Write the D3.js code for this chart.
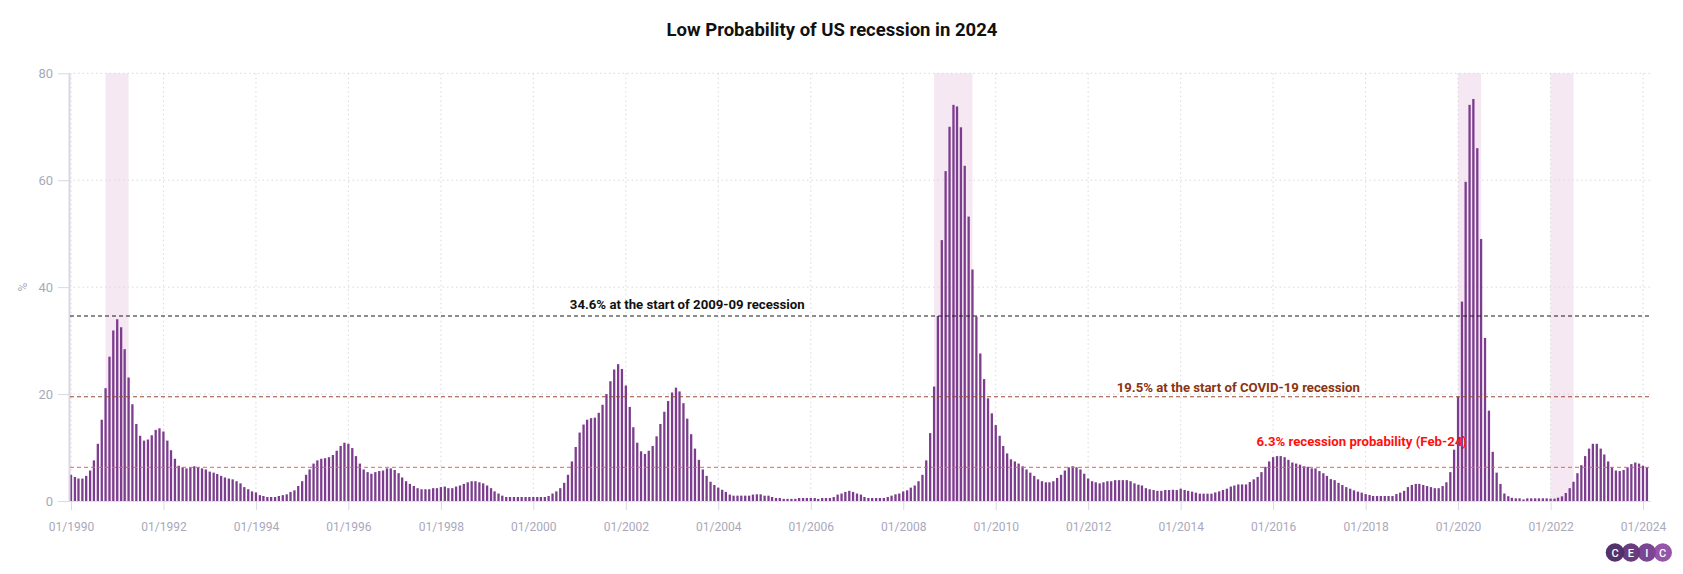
<!DOCTYPE html>
<html><head><meta charset="utf-8">
<script src="https://cdn.jsdelivr.net/npm/d3@7"></script>
<style>
html,body{margin:0;padding:0;background:#fff;}
svg{display:block;font-family:Roboto,"Open Sans",sans-serif;}
</style></head><body>
<svg id="chart" width="1683" height="574"></svg>
<script>
// ---- data ----
const startMonth = "1990-01";
// US recession probability, %, monthly Jan 1990 .. Feb 2024 (one row per year)
const probability = [
  4.9, 4.5, 4.2, 4.2, 4.7, 5.7, 7.6, 10.7, 15.2, 21.1, 27.0, 31.9,      // 1990
  34.0, 32.5, 28.4, 23.1, 18.1, 14.4, 12.2, 11.3, 11.5, 12.3, 13.3, 13.6, // 1991
  13.0, 11.3, 9.5, 7.9, 6.6, 6.3, 6.1, 6.3, 6.5, 6.3, 6.1, 5.9,          // 1992
  5.5, 5.3, 5.05, 4.7, 4.4, 4.2, 4.05, 3.7, 3.3, 2.6, 2.2, 1.8,          // 1993
  1.6, 1.1, 0.94, 0.75, 0.75, 0.75, 0.94, 1.1, 1.25, 1.7, 2.0, 2.8,      // 1994
  3.7, 4.9, 5.9, 7.0, 7.6, 7.9, 8.0, 8.2, 8.6, 9.4, 10.3, 10.9,          // 1995
  10.7, 9.9, 8.4, 7.0, 5.9, 5.4, 5.1, 5.4, 5.6, 5.7, 6.1, 6.1,           // 1996
  5.8, 5.2, 4.4, 3.7, 3.2, 2.8, 2.4, 2.2, 2.2, 2.2, 2.4, 2.4,            // 1997
  2.6, 2.7, 2.4, 2.4, 2.7, 2.9, 3.2, 3.5, 3.7, 3.7, 3.5, 3.3,            // 1998
  2.9, 2.4, 1.8, 1.4, 1.0, 0.75, 0.75, 0.75, 0.75, 0.75, 0.75, 0.75,     // 1999
  0.75, 0.75, 0.75, 0.75, 0.94, 1.4, 1.8, 2.4, 3.4, 4.9, 7.4, 10.1,      // 2000
  12.8, 14.3, 15.2, 15.5, 15.6, 16.5, 18.0, 20.0, 22.4, 24.6, 25.6, 24.7, // 2001
  21.6, 17.6, 13.8, 10.9, 9.3, 8.8, 9.4, 10.3, 12.1, 14.4, 16.7, 18.7,   // 2002
  20.3, 21.2, 20.5, 18.3, 15.4, 12.5, 9.8, 7.7, 5.9, 4.7, 3.6, 3.0,      // 2003
  2.5, 2.1, 1.7, 1.2, 1.0, 1.0, 1.0, 1.0, 1.0, 1.2, 1.25, 1.25,          // 2004
  1.0, 1.0, 0.75, 0.56, 0.56, 0.4, 0.4, 0.4, 0.4, 0.56, 0.56, 0.56,      // 2005
  0.56, 0.56, 0.4, 0.56, 0.56, 0.56, 0.75, 1.2, 1.4, 1.7, 1.9, 1.7,      // 2006
  1.4, 1.2, 0.75, 0.56, 0.56, 0.56, 0.56, 0.56, 0.75, 1.0, 1.25, 1.4,    // 2007
  1.8, 2.0, 2.5, 2.9, 3.7, 4.9, 7.6, 12.7, 21.4, 34.6, 48.8, 61.7,       // 2008
  70.0, 74.1, 73.8, 69.9, 62.7, 53.2, 43.3, 34.5, 27.6, 22.8, 19.2, 16.4, // 2009
  14.2, 12.2, 10.3, 8.9, 7.8, 7.4, 7.0, 6.5, 5.9, 5.3, 4.7, 4.05,        // 2010
  3.7, 3.5, 3.5, 3.7, 4.3, 4.9, 5.7, 6.3, 6.5, 6.3, 5.9, 5.1,            // 2011
  4.2, 3.7, 3.5, 3.3, 3.5, 3.7, 3.7, 3.9, 3.9, 3.9, 3.9, 3.7,            // 2012
  3.3, 3.05, 2.9, 2.4, 2.2, 2.06, 1.9, 1.9, 2.06, 2.06, 2.1, 2.06,       // 2013
  2.3, 2.06, 1.9, 1.75, 1.56, 1.37, 1.37, 1.37, 1.37, 1.6, 1.8, 2.06,    // 2014
  2.3, 2.7, 2.9, 3.1, 3.1, 3.1, 3.55, 4.05, 4.5, 5.4, 6.4, 7.4,          // 2015
  8.2, 8.4, 8.4, 8.2, 7.7, 7.2, 7.0, 6.8, 6.5, 6.4, 6.1, 6.1,            // 2016
  5.6, 5.2, 4.7, 4.1, 3.9, 3.4, 3.0, 2.6, 2.3, 2.0, 1.75, 1.56,          // 2017
  1.3, 1.12, 0.94, 0.94, 0.94, 0.94, 0.94, 0.94, 1.3, 1.56, 1.9, 2.6,    // 2018
  3.0, 3.2, 3.2, 3.0, 2.8, 2.6, 2.4, 2.4, 2.8, 3.5, 5.4, 9.6,            // 2019
  19.5, 37.3, 59.7, 74.1, 75.2, 66.0, 49.0, 30.5, 16.9, 9.2, 5.3, 3.2,   // 2020
  1.4, 0.9, 0.6, 0.5, 0.5, 0.3, 0.5, 0.5, 0.5, 0.5, 0.5, 0.5,            // 2021
  0.44, 0.44, 0.62, 0.87, 1.5, 2.4, 3.6, 5.2, 6.7, 8.4, 9.8, 10.7,       // 2022
  10.7, 9.8, 8.7, 7.4, 6.3, 5.7, 5.6, 5.8, 6.3, 6.9, 7.2, 7.0,           // 2023
  6.6, 6.3                                                               // 2024
];
const xTickLabels = ["01/1990","01/1992","01/1994","01/1996","01/1998","01/2000","01/2002",
  "01/2004","01/2006","01/2008","01/2010","01/2012","01/2014","01/2016","01/2018",
  "01/2020","01/2022","01/2024"];
const yTicks = [0, 20, 40, 60, 80];
const bandStarts = ["1990-10", "2008-09", "2020-01", "2022-01"];
const bandEnds   = ["1991-04", "2009-07", "2020-07", "2022-07"];
const refValues = [34.6, 19.5, 6.3];
const refLabels = ["34.6% at the start of 2009-09 recession",
                   "19.5% at the start of COVID-19 recession",
                   "6.3% recession probability (Feb-24)"];
const refLabelDates = ["2003-05", "2015-04", "2017-12"];
const titleText = "Low Probability of US recession in 2024";
const yAxisLabel = "%";
const logoLetters = ["C", "E", "I", "C"];

// ---- layout / style ----
const svg = d3.select("#chart");
const axisX = 69, plotRight = 1651, plotTop = 73.3, plotBottom = 501;
const parseYM = d3.timeParse("%Y-%m");
const parseTick = d3.timeParse("%m/%Y");
const start = parseYM(startMonth);
const months = probability.map((v, i) => ({date: d3.timeMonth.offset(start, i), value: v}));

const x = d3.scaleTime().domain([parseTick("01/1990"), parseTick("01/2024")]).range([71, 1643]);
const y = d3.scaleLinear().domain([0, 80]).range([plotBottom, plotTop]);

const gridColor = "#d8d8e0", axisColor = "#d9d8e4", labelColor = "#a9a8bb";

// recession bands
svg.append("g").selectAll("rect").data(bandStarts.map((s, i) => [parseYM(s), parseYM(bandEnds[i])]))
  .join("rect")
  .attr("x", d => x(d[0])).attr("width", d => x(d[1]) - x(d[0]))
  .attr("y", plotTop).attr("height", plotBottom - plotTop)
  .attr("fill", "#f5e8f3");

// grid
svg.append("g").selectAll("line").data(yTicks.filter(v => v > 0)).join("line")
  .attr("x1", axisX).attr("x2", plotRight)
  .attr("y1", d => y(d)).attr("y2", d => y(d))
  .attr("stroke", gridColor).attr("stroke-width", 1).attr("stroke-dasharray", "1.5,3");
const tickDates = xTickLabels.map(parseTick);
svg.append("g").selectAll("line").data(tickDates).join("line")
  .attr("x1", d => x(d)).attr("x2", d => x(d))
  .attr("y1", plotTop).attr("y2", plotBottom)
  .attr("stroke", gridColor).attr("stroke-width", 1).attr("stroke-dasharray", "1.5,3");

// bars
const barW = 2.3;
svg.append("g").selectAll("rect").data(months).join("rect")
  .attr("x", d => x(d.date) - barW / 2).attr("width", barW)
  .attr("y", d => y(d.value)).attr("height", d => plotBottom - y(d.value))
  .attr("fill", "#7c3d8e");

// baseline
svg.append("line").attr("x1", axisX).attr("x2", plotRight)
  .attr("y1", plotBottom + 0.5).attr("y2", plotBottom + 0.5)
  .attr("stroke", "#e2e1ea").attr("stroke-width", 1);

// y axis
const gy = svg.append("g").attr("transform", `translate(${axisX},0)`)
  .call(d3.axisLeft(y).tickValues(yTicks).tickSize(11).tickSizeOuter(0).tickPadding(5));
gy.select(".domain").attr("stroke", axisColor).attr("stroke-width", 2);
gy.selectAll(".tick line").attr("stroke", axisColor);
gy.selectAll(".tick text").attr("fill", labelColor).style("font-size", "13px").style("font-family", "Roboto");

// x axis
const gx = svg.append("g").attr("transform", `translate(0,${plotBottom})`)
  .call(d3.axisBottom(x).tickValues(tickDates).tickFormat(d3.timeFormat("%m/%Y")).tickSize(9).tickSizeOuter(0).tickPadding(12));
gx.select(".domain").remove();
gx.selectAll(".tick line").attr("stroke", axisColor);
gx.selectAll(".tick text").attr("fill", labelColor).style("font-size", "12px").style("font-family", "Roboto");

// y label
svg.append("text").attr("transform", "translate(27,287) rotate(-90)")
  .attr("text-anchor", "middle").attr("fill", labelColor).style("font-size", "12px").text(yAxisLabel);

// reference lines
const refLineColors = ["#1a1a1a", "#9b4a33", "#ff5a5a"];
const refLineWidths = [1.2, 1.2, 1];
const refTextColors = ["#111111", "#8b3412", "#ff1010"];
const refLabelDy = [-6.8, -4.8, -21];
svg.append("g").selectAll("line").data(refValues).join("line")
  .attr("x1", axisX + 1).attr("x2", plotRight)
  .attr("y1", d => y(d)).attr("y2", d => y(d))
  .attr("stroke", (d, i) => refLineColors[i]).attr("stroke-width", (d, i) => refLineWidths[i])
  .attr("stroke-dasharray", "4,3");
svg.append("g").selectAll("text").data(refLabels).join("text")
  .attr("x", (d, i) => x(parseYM(refLabelDates[i])))
  .attr("y", (d, i) => y(refValues[i]) + refLabelDy[i])
  .attr("text-anchor", "middle")
  .attr("fill", (d, i) => refTextColors[i])
  .style("font-size", "13.2px").style("font-weight", "700")
  .text(d => d);

// title
svg.append("text").attr("x", 832).attr("y", 36).attr("text-anchor", "middle")
  .attr("fill", "#111").style("font-size", "18.5px").style("font-weight", "700").text(titleText);

// logo
const logoColors = ["#3f1d5c", "#56286f", "#6b3285", "#8a44a0"];
const logo = svg.append("g").attr("transform", "translate(1615,552.5)");
logo.selectAll("circle").data(logoLetters).join("circle")
  .attr("cx", (d, i) => i * 15.9).attr("cy", 0).attr("r", 9.3)
  .attr("fill", (d, i) => logoColors[i]).attr("fill-opacity", 0.9);
logo.selectAll("text").data(logoLetters).join("text")
  .attr("x", (d, i) => i * 15.9).attr("y", 4).attr("text-anchor", "middle")
  .attr("fill", "#fff").style("font-size", "11px").style("font-weight", "500").text(d => d);
</script>
</body></html>
